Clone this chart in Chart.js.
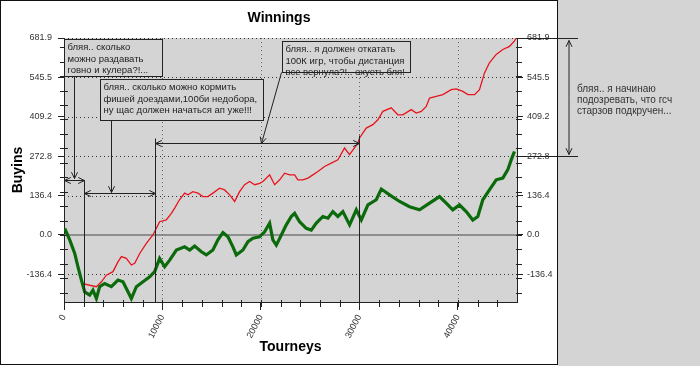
<!DOCTYPE html>
<html>
<head>
<meta charset="utf-8">
<script src="https://cdn.jsdelivr.net/npm/chart.js@4/dist/chart.umd.min.js"></script>
<style>
html, body { margin: 0; padding: 0; background: #fff; }
</style>
</head>
<body>
<canvas id="chart" width="700" height="366"></canvas>
<script>
// values (tourneys / buyins)
const redX = [1930, 2610, 3290, 3800, 4300, 4970, 5480, 5830, 6330, 6840, 7180, 7690, 8360, 9030, 9710, 10390, 10900, 11240, 11710, 12250, 12590, 13090, 13600, 14110, 14620, 15120, 15800, 16310, 16820, 17330, 17830, 18340, 18850, 19360, 19870, 20200, 20880, 21390, 21900, 22400, 22910, 23420, 23750, 24260, 24770, 25270, 25780, 26460, 27140, 27810, 28490, 28990, 29840, 30010, 30690, 31360, 31870, 32380, 33230, 33900, 34410, 35260, 35770, 36280, 36780, 37120, 37800, 38470, 39320, 39830, 40500, 41010, 41690, 42190, 42700, 43200, 43890, 44560, 45240, 45750, 45920];
const redY = [-168, -174, -179, -162, -139, -127, -93, -75, -81, -104, -98, -64, -29, 0, 46, 52, 75, 93, 121, 145, 139, 150, 145, 133, 133, 145, 162, 156, 139, 116, 150, 174, 185, 174, 179, 185, 208, 174, 191, 214, 208, 208, 191, 191, 197, 208, 220, 237, 249, 260, 301, 278, 318, 336, 370, 382, 399, 428, 440, 416, 416, 434, 422, 428, 445, 474, 480, 486, 503, 506, 497, 486, 486, 503, 561, 596, 625, 642, 653, 672, 681];

const greenX = [70, 580, 1090, 1420, 1770, 2100, 2610, 2940, 3290, 3620, 4130, 4810, 5480, 5990, 6330, 6840, 7350, 8020, 8700, 9210, 9710, 10220, 10730, 11410, 12250, 12760, 13270, 13950, 14450, 15120, 15630, 16140, 16650, 17150, 17500, 18170, 18680, 19180, 19860, 20370, 20880, 21210, 21560, 22070, 22570, 23080, 23420, 23920, 24600, 25110, 25620, 26290, 26800, 27300, 27810, 28320, 29000, 29680, 30190, 30860, 31710, 32220, 33060, 34080, 35090, 36100, 37120, 38130, 38810, 39480, 40160, 40840, 41510, 42020, 42530, 43200, 43890, 44560, 45070, 45410, 45740];
const greenY = [23, -17, -64, -110, -156, -197, -208, -191, -220, -179, -168, -179, -156, -162, -185, -220, -179, -162, -145, -127, -81, -110, -87, -52, -41, -52, -38, -58, -69, -52, -17, 8, -6, -41, -69, -52, -23, -11, -6, 11, 41, -17, -35, 0, 35, 64, 75, 46, 23, 17, 41, 64, 58, 81, 64, 81, 35, 87, 52, 104, 122, 159, 139, 116, 98, 87, 110, 133, 110, 87, 104, 81, 52, 64, 122, 156, 191, 197, 226, 260, 289];

const xTicks = [0, 10000, 20000, 30000, 40000];
const yTicks = [-136.4, 0, 136.4, 272.8, 409.2, 545.5, 681.9];

const FONT = '"Liberation Sans", Arial, sans-serif';
const PANEL_X = 558;

// comment boxes, in data units
const boxes = [
    { x0: 0, x1: 10000, y0: 677, y1: 552, lines: ['бляя.. сколько', 'можно раздавать', 'говно и кулера?!...'] },
    { x0: 3630, x1: 20170, y0: 541, y1: 399, lines: ['бляя.. сколько можно кормить', 'фишей доездами,100би недобора,', 'ну щас должен начаться ап уже!!!'] },
    { x0: 22170, x1: 35090, y0: 671, y1: 563, lines: ['бляя.. я должен откатать', '100К игр, чтобы дистанция', 'все вернула?!.. охуеть бля!'] }
];
const panelLines = ['бляя.. я начинаю', 'подозревать, что гсч', 'старзов подкручен...'];

function line(ctx, x0, y0, x1, y1) {
    ctx.beginPath();
    ctx.moveTo(x0, y0);
    ctx.lineTo(x1, y1);
    ctx.stroke();
}

function arrowHead(ctx, fx, fy, tx, ty) {
    const ang = Math.atan2(ty - fy, tx - fx);
    const len = 7, spread = 0.45;
    ctx.beginPath();
    ctx.moveTo(tx - len * Math.cos(ang - spread), ty - len * Math.sin(ang - spread));
    ctx.lineTo(tx, ty);
    ctx.lineTo(tx - len * Math.cos(ang + spread), ty - len * Math.sin(ang + spread));
    ctx.stroke();
}

function arrow(ctx, x0, y0, x1, y1, both) {
    line(ctx, x0, y0, x1, y1);
    arrowHead(ctx, x0, y0, x1, y1);
    if (both) arrowHead(ctx, x1, y1, x0, y0);
}

const decor = {
    id: 'decor',
    beforeDraw(chart) {
        const { ctx, width, height, chartArea: a } = chart;
        ctx.save();
        ctx.fillStyle = '#fff';
        ctx.fillRect(0, 0, width, height);
        ctx.fillStyle = '#d4d4d4';
        ctx.fillRect(PANEL_X, 0, width - PANEL_X, height);
        ctx.fillRect(a.left, a.top, a.right - a.left, a.bottom - a.top);
        ctx.strokeStyle = '#111';
        ctx.lineWidth = 1;
        ctx.strokeRect(0.5, 0.5, PANEL_X - 1, height - 2);

        // title
        ctx.fillStyle = '#000';
        ctx.font = 'bold 14px ' + FONT;
        ctx.textAlign = 'center';
        ctx.textBaseline = 'middle';
        ctx.fillText('Winnings', PANEL_X / 2, 18);
        ctx.restore();
    },
    beforeDatasetsDraw(chart) {
        const { ctx, chartArea: a } = chart;
        const x = chart.scales.x, y = chart.scales.y;
        ctx.save();
        ctx.lineWidth = 1;
        ctx.strokeStyle = '#333';
        ctx.setLineDash([1, 3]);
        yTicks.forEach(v => {
            if (v === 0) return;
            const py = Math.round(y.getPixelForValue(v)) + 0.5;
            line(ctx, a.left, py, a.right, py);
        });
        ctx.strokeStyle = '#666';
        xTicks.forEach(v => {
            if (v === 0) return;
            const px = Math.round(x.getPixelForValue(v)) + 0.5;
            line(ctx, px, a.top, px, a.bottom);
        });
        ctx.setLineDash([]);
        ctx.strokeStyle = '#777';
        ctx.lineWidth = 1.5;
        const zy = y.getPixelForValue(0);
        line(ctx, a.left, zy, a.right, zy);

        // minor ticks
        ctx.strokeStyle = '#222';
        ctx.lineWidth = 1;
        for (let v = -200; v <= 650; v += 50) {
            const py = Math.round(y.getPixelForValue(v)) + 0.5;
            line(ctx, a.left - 4, py, a.left + 4, py);
            line(ctx, a.right - 1, py, a.right + 5, py);
        }
        for (let v = 2000; v <= 44000; v += 2000) {
            const px = Math.round(x.getPixelForValue(v)) + 0.5;
            line(ctx, px, a.bottom - 2, px, a.bottom + 5);
        }
        ctx.restore();
    },
    afterDatasetsDraw(chart) {
        const { ctx, chartArea: a } = chart;
        const x = chart.scales.x, y = chart.scales.y;
        const X = v => Math.round(x.getPixelForValue(v)) + 0.5;
        const Y = v => Math.round(y.getPixelForValue(v)) + 0.5;
        ctx.save();
        ctx.strokeStyle = '#222';
        ctx.lineWidth = 1;

        // pointers
        arrow(ctx, X(985), Y(552), X(985), Y(196));
        arrow(ctx, X(0), Y(191), X(2000), Y(191), true);
        line(ctx, X(2000), Y(191), X(2000), a.bottom);
        arrow(ctx, X(4740), Y(399), X(4740), Y(150));
        arrow(ctx, X(2000), Y(147), X(9280), Y(147), true);
        line(ctx, X(9280), Y(334), X(9280), a.bottom);
        arrow(ctx, X(9280), Y(318), X(30000), Y(318), true);
        line(ctx, X(30000), Y(347), X(30000), a.bottom);
        arrow(ctx, X(22070), Y(563), X(20000), Y(318));

        // boxes
        ctx.font = '9.5px ' + FONT;
        ctx.textAlign = 'left';
        ctx.textBaseline = 'middle';
        boxes.forEach(b => {
            const l = X(b.x0), r = X(b.x1), t = Y(b.y0), bt = Y(b.y1);
            ctx.fillStyle = '#d4d4d4';
            ctx.fillRect(l, t, r - l, bt - t);
            ctx.strokeRect(l, t, r - l, bt - t);
            ctx.fillStyle = '#222';
            b.lines.forEach((s, i) => ctx.fillText(s, l + 3, t + 8 + i * 11.5));
        });

        // right panel note
        const top = Y(681.9), bot = Y(272.8);
        line(ctx, a.right, top, a.right + 61, top);
        line(ctx, a.right, bot, a.right + 61, bot);
        arrow(ctx, a.right + 52, (top + bot) / 2, a.right + 52, top + 2);
        arrow(ctx, a.right + 52, (top + bot) / 2, a.right + 52, bot - 2);
        ctx.font = '10px ' + FONT;
        ctx.fillStyle = '#333';
        const mid = (top + bot) / 2;
        panelLines.forEach((s, i) => ctx.fillText(s, a.right + 60, mid - 8 + i * 11));
        ctx.restore();
    }
};

const tickFont = { family: FONT, size: 9 };

new Chart(document.getElementById('chart'), {
    type: 'line',
    data: {
        datasets: [{
            label: 'green',
            data: greenX.map((v, i) => ({ x: v, y: greenY[i] })),
            borderColor: '#0b6a0b',
            borderWidth: 3.2,
            pointRadius: 0,
            tension: 0
        }, {
            label: 'red',
            data: redX.map((v, i) => ({ x: v, y: redY[i] })),
            borderColor: '#e8141c',
            borderWidth: 1.3,
            pointRadius: 0,
            tension: 0
        }]
    },
    options: {
        responsive: false,
        animation: false,
        events: [],
        layout: { padding: { top: 38, left: 0, right: 0, bottom: 0 } },
        plugins: { legend: { display: false }, tooltip: { enabled: false } },
        scales: {
            x: {
                type: 'linear',
                min: 0,
                max: 46000,
                afterBuildTicks: s => { s.ticks = xTicks.map(v => ({ value: v })); },
                afterFit: s => { s.height = 64; },
                grid: { drawOnChartArea: false, tickLength: 8, tickColor: '#222' },
                border: { display: true, color: '#222' },
                ticks: {
                    autoSkip: false,
                    minRotation: 62,
                    maxRotation: 62,
                    padding: 3,
                    color: '#333',
                    font: tickFont,
                    callback: v => String(v)
                },
                title: {
                    display: true,
                    text: 'Tourneys',
                    color: '#000',
                    font: { family: FONT, size: 14, weight: 'bold' },
                    padding: { top: 0, bottom: 10 }
                }
            },
            y: {
                position: 'left',
                min: -232,
                max: 681.9,
                afterBuildTicks: s => { s.ticks = yTicks.map(v => ({ value: v })); },
                afterFit: s => { s.width = 64; },
                grid: { drawOnChartArea: false, tickLength: 6, tickColor: '#222' },
                border: { display: true, color: '#222' },
                ticks: { padding: 6, color: '#333', font: tickFont, callback: v => v.toFixed(1) },
                title: {
                    display: true,
                    text: 'Buyins',
                    color: '#000',
                    font: { family: FONT, size: 14, weight: 'bold' },
                    padding: { top: 10, bottom: 0 }
                }
            },
            y2: {
                position: 'right',
                min: -232,
                max: 681.9,
                afterBuildTicks: s => { s.ticks = yTicks.map(v => ({ value: v })); },
                afterFit: s => { s.width = 183; },
                grid: { drawOnChartArea: false, tickLength: 6, tickColor: '#222' },
                border: { display: true, color: '#222' },
                ticks: { padding: 4, color: '#333', font: tickFont, callback: v => v.toFixed(1) }
            }
        }
    },
    plugins: [decor]
});
</script>
</body>
</html>
